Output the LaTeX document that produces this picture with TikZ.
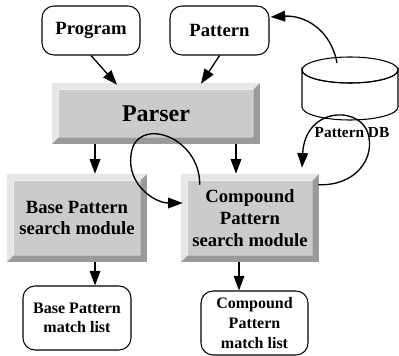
\documentclass[tikz,border=0pt]{standalone}
\usepackage{fontspec}
\setmainfont{Liberation Serif}
\usetikzlibrary{arrows.meta,calc}

\definecolor{bevlight}{HTML}{E6E6E6}
\definecolor{bevface}{HTML}{CBCBCB}
\definecolor{bevdark}{HTML}{9A9A9A}

% raised grey frame around a node (light top/left, dark bottom/right)
\newcommand\bevelframe[2]{%
  \fill[bevlight] ([shift={(-#2,-#2)}]#1.north west) -- ([shift={(#2,-#2)}]#1.north east)
    -- (#1.north east) -- (#1.north west) -- (#1.south west)
    -- ([shift={(-#2,#2)}]#1.south west) -- cycle;
  \fill[bevdark] ([shift={(#2,-#2)}]#1.north east) -- ([shift={(#2,#2)}]#1.south east)
    -- ([shift={(-#2,#2)}]#1.south west) -- (#1.south west) -- (#1.south east)
    -- (#1.north east) -- cycle;}

\tikzset{
  roundbox/.style={draw, line width=0.8pt, rounded corners=9pt, fill=white,
    inner sep=0pt, align=center, font=\bfseries},
  greybox/.style={fill=bevface, inner sep=0pt, align=center, font=\bfseries},
  arr/.style={line width=1pt, -{Triangle[length=11pt,width=8pt]}},
}

\begin{document}
\begin{tikzpicture}[x=0.75pt,y=-0.75pt]
\useasboundingbox (0,0) rectangle (399,356);

% input boxes
\node[roundbox, minimum width=73.5pt, minimum height=36.75pt, font=\bfseries\fontsize{14}{16}\selectfont]
  (program) at (91,30.5) {Program};
\node[roundbox, minimum width=74.25pt, minimum height=36.75pt, font=\bfseries\fontsize{14}{16}\selectfont]
  (pattern) at (219.5,30.5) {Pattern};

% processing modules
\node[greybox, minimum width=145.5pt, minimum height=35.25pt, font=\bfseries\fontsize{18}{20}\selectfont]
  (parser) at (156,113.5) {Parser};
\bevelframe{parser}{6.5}
\node[greybox, minimum width=94.5pt, minimum height=55.5pt, font=\bfseries\fontsize{14}{16}\selectfont]
  (base) at (77,218) {Base Pattern\\search module};
\bevelframe{base}{6.5}
\node[greybox, minimum width=93pt, minimum height=55.5pt, font=\bfseries\fontsize{14}{16.5}\selectfont]
  (compound) at (250,218) {Compound\\Pattern\\search module};
\bevelframe{compound}{6.5}

% result boxes
\node[roundbox, minimum width=81pt, minimum height=48pt, font=\bfseries\fontsize{12}{14.5}\selectfont]
  (basematch) at (77,318) {Base Pattern\\match list};
\node[roundbox, minimum width=80.25pt, minimum height=48pt, font=\bfseries\fontsize{12}{15}\selectfont]
  (compmatch) at (254.5,323) {Compound\\Pattern\\match list};

% pattern database cylinder
\filldraw[fill=white, line width=0.8pt]
  (302,70) -- (302,107) arc[start angle=180, end angle=360, x radius=48, y radius=-13]
  -- (398,70) arc[start angle=0, end angle=-180, x radius=48, y radius=-13] -- cycle;
\draw[line width=0.8pt] (350,70) ellipse[x radius=48, y radius=13];
\coordinate (dbtop) at (337,63);
\node[font=\bfseries\fontsize{11.5}{13}\selectfont] (dblabel) at (352,133) {Pattern DB};

% straight connectors
\draw[arr] (program.south) -- ([shift={(-39,-5)}]parser.north);
\draw[arr] (pattern.south) -- ([shift={(45,-6)}]parser.north);
\draw[arr] ([shift={(-61,7)}]parser.south) -- ([shift={(18,-7)}]base.north);
\draw[arr] ([shift={(80,7)}]parser.south) -- ([shift={(-14,-7)}]compound.north);
\draw[arr] ([shift={(18,7)}]base.south) -- ([shift={(18,0)}]basematch.north);
\draw[arr] ([shift={(-11,7)}]compound.south) -- ([shift={(-15.5,0)}]compmatch.north);

% curved connectors
\draw[arr] (dbtop) .. controls (331,30) and (305,15) .. ([shift={(1,-13.5)}]pattern.east);
\draw[arr] ([shift={(12,4)}]compound.north west)
  .. controls (200,135) and (135,115) .. (131,155)
  .. controls (127,185) and (155,203) .. ([shift={(-5,-15)}]compound.west);
\draw[arr] ([shift={(6,4)}]compound.north east)
  .. controls (355,186) and (373,160) .. (369,138)
  .. controls (365,105) and (305,105) .. ([shift={(52,-13)}]compound.north);
\end{tikzpicture}
\end{document}
